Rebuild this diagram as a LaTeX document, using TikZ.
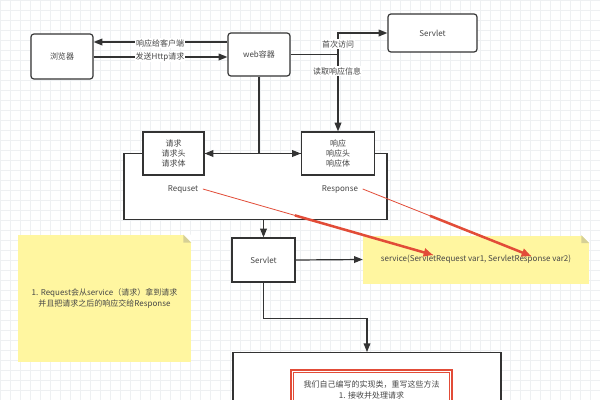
\documentclass[tikz,border=0pt]{standalone}
\usepackage{fontspec}
\newfontfamily\cjk{Noto Sans CJK SC}
\usetikzlibrary{arrows.meta,positioning,calc}

\definecolor{linegray}{RGB}{51,51,51}
\definecolor{textgray}{RGB}{70,70,70}
\definecolor{gridgray}{RGB}{238,240,242}
\definecolor{noteyellow}{RGB}{255,246,160}
\definecolor{notefold}{RGB}{214,208,150}
\definecolor{arrowred}{RGB}{226,76,56}

\tikzset{
  txt/.style={font=\cjk\fontsize{6}{7.6}\selectfont, text=textgray, align=center},
  box/.style={txt, draw=linegray, line width=0.9pt, fill=white, inner sep=1pt},
  rbox/.style={box, rounded corners=2.2pt},
  note/.style={txt, fill=noteyellow, inner sep=1pt},
  conn/.style={draw=linegray, line width=0.9pt, -{Triangle[length=6.5pt,width=5pt]}},
  wire/.style={draw=linegray, line width=0.9pt},
  lbl/.style={txt, fill=white, inner sep=0.6pt},
  redthin/.style={draw=arrowred, line width=0.6pt},
  redarrow/.style={draw=arrowred, line width=1.9pt, -{Triangle[length=7pt,width=6pt]}}
}

\begin{document}
\begin{tikzpicture}[x=0.75pt,y=0.75pt,yscale=-1,xscale=1]

    \clip (0,0) rectangle (600,400);
    \fill[white] (0,0) rectangle (600,400);
    \draw[gridgray, line width=0.3pt, step=10] (0,0) grid (600,400);

    % top row
    \node (browser) at (62,56.5) [rbox, minimum width=46.5pt, minimum height=33.75pt] {浏览器};
    \node (web) at (259,54.5) [rbox, minimum width=46.5pt, minimum height=32.25pt] {web容器};
    \node (servlet1) at (432.5,33) [rbox, minimum width=66.75pt, minimum height=28.5pt] {Servlet};

    \coordinate (backrow) at (160,42);
    \coordinate (sendrow) at (160,57);
    \draw[conn] (web.west |- backrow) -- (browser.east |- backrow);
    \draw[conn] (browser.east |- sendrow) -- (web.west |- sendrow);
    \node (backlbl) at (160,43) [lbl] {响应给客户端};
    \node (sendlbl) at (160,57) [lbl] {发送Http请求};

    % request / response
    \node (container) at (255.5,186.5) [box, minimum width=197.25pt, minimum height=49.5pt] {};
    \node (request) at (173.5,153.5) [box, minimum width=45.75pt, minimum height=32.25pt] {请求\\请求头\\请求体};
    \node (response) at (338,153.5) [box, minimum width=54.75pt, minimum height=32.25pt] {响应\\响应头\\响应体};

    \coordinate (split) at (response.north |- web.east);
    \draw[conn] (web.east) -- (split) |- (servlet1.west);
    \draw[conn] (split) -- (response.north);
    \node (firstlbl) at (338,44) [lbl] {首次访问};
    \node (readlbl) at (337,71) [lbl] {读取响应信息};

    \coordinate (hub) at (web.south |- request.east);
    \draw[wire] (web.south) -- (hub);
    \draw[conn] (hub) -- (request.east);
    \draw[conn] (hub) -- (response.west);

    \node (reqlbl) at (183,189) [txt] {Requset};
    \node (resplbl) at (340,189) [txt] {Response};

    % servlet and notes
    \node (servlet2) at (263.5,260) [box, minimum width=47.25pt, minimum height=33pt] {Servlet};
    \draw[conn] (servlet2.north |- container.south) -- (servlet2.north);

    \node (service) at (476,259.5) [note, minimum width=169.5pt, minimum height=36pt] {service(ServletRequest var1, ServletResponse var2)};
    \fill[white] (service.north east) -- ++(-8,0) -- ++(8,8) -- cycle;
    \fill[notefold] (service.north east) ++(-8,0) -- ++(0,8) -- ++(8,0) -- cycle;
    \draw[conn] (servlet2.east) -- (service.west);

    \node (usage) at (104.5,298.5) [note, minimum width=129.75pt, minimum height=95.25pt] {1. Request会从service（请求）拿到请求\\并且把请求之后的响应交给Response};
    \fill[white] (usage.north east) -- ++(-8,0) -- ++(8,8) -- cycle;
    \fill[notefold] (usage.north east) ++(-8,0) -- ++(0,8) -- ++(8,0) -- cycle;

    % own implementation
    \node (impl) at (367,386) [box, minimum width=201pt, minimum height=50pt] {};
    \node (own) at (371.5,390) [box, draw=arrowred, line width=2.2pt, minimum width=120.75pt, minimum height=30pt] {我们自己编写的实现类，重写这些方法\\1. 接收并处理请求};
    \draw[redthin] ([shift={(2.8pt,2.8pt)}]own.north west) rectangle ([shift={(-2.8pt,-2.8pt)}]own.south east);
    \draw[conn] (servlet2.south) -- ++(0,36) -| (impl.north);

    % red pointers
    \coordinate (reqtip) at (433,255);
    \coordinate (resptip) at (531,256);
    \draw[redthin] (reqlbl.east) -- (reqtip);
    \draw[redarrow] ($(reqlbl.east)!0.4!(reqtip)$) -- (reqtip);
    \draw[redthin] (resplbl.east) -- (resptip);
    \draw[redarrow] ($(resplbl.east)!0.4!(resptip)$) -- (resptip);

\end{tikzpicture}
\end{document}
